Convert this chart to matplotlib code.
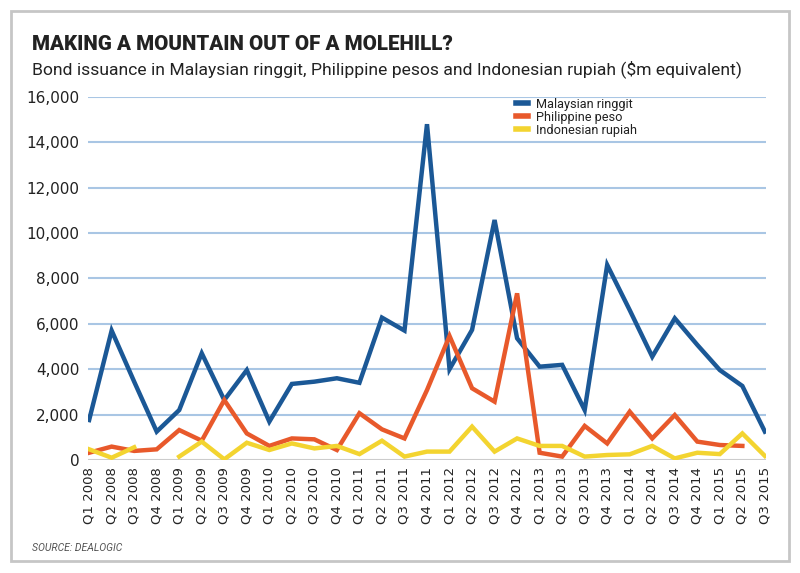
import numpy as np
import matplotlib
matplotlib.use("Agg")
import matplotlib.pyplot as plt
from matplotlib.patches import Rectangle
from matplotlib.lines import Line2D
from matplotlib import font_manager as fm

quarters = [f"Q{q} {y}" for y in range(2008, 2016) for q in range(1, 5)][:31]

malaysian = [1760, 5700, 3450, 1250, 2200, 4700, 2640, 3960, 1690, 3350, 3450, 3600,
             3400, 6270, 5700, 14790, 4000, 5730, 10570, 5360, 4110, 4190, 2200, 8590,
             6600, 4550, 6240, 5070, 3960, 3260, 1250]
philippine = [320, 590, 400, 470, 1320, 850, 2640, 1170, 620, 950, 910, 440,
              2060, 1350, 950, 3080, 5460, 3160, 2570, 7340, 320, 150, 1500, 730,
              2130, 950, 1980, 810, 660, 620, np.nan]
indonesian = [470, 100, 560, np.nan, 150, 810, 30, 760, 440, 730, 510, 620,
              260, 850, 150, 370, 370, 1470, 370, 950, 620, 620, 150, 220,
              250, 620, 70, 320, 260, 1170, 180]

series_names = ["Malaysian ringgit", "Philippine peso", "Indonesian rupiah"]
colors = ["#1b5896", "#e8592b", "#f3d430"]

title_text = "MAKING A MOUNTAIN OUT OF A MOLEHILL?"
subtitle_text = "Bond issuance in Malaysian ringgit, Philippine pesos and Indonesian rupiah ($m equivalent)"
source_text = "SOURCE: DEALOGIC"

fig = plt.figure(figsize=(8, 5.73), dpi=100)
W, H = 800, 573
renderer = fig.canvas.get_renderer()


def text_width(s, family, size, weight="normal", style="normal"):
    t = fig.text(0, 0, s, family=family, fontsize=size, fontweight=weight, fontstyle=style)
    w = t.get_window_extent(renderer).width
    t.remove()
    return w


installed = {f.name for f in fm.fontManager.ttflist}
candidates = ["Fira Sans Condensed", "Fira Sans", "Source Sans 3", "Source Sans Pro",
              "PT Sans", "Archivo Narrow", "Roboto Condensed", "Asap", "Asap Condensed",
              "Barlow Semi Condensed", "Encode Sans Semi Condensed", "IBM Plex Sans Condensed",
              "Alegreya Sans", "Signika", "Cabin", "Lato", "Open Sans", "Roboto", "Noto Sans"]
candidates = [c for c in candidates if c in installed] or ["DejaVu Sans"]
best = min(candidates, key=lambda f: abs(text_width(subtitle_text, [f], 12.5) - 705))
fam = [best, "DejaVu Sans"]

sub_size = 12.5 * 705 / text_width(subtitle_text, fam, 12.5)
sub_size = float(np.clip(sub_size, 11, 14))
title_size = 16 * 419 / text_width(title_text, fam, 16, weight="bold")
title_size = float(np.clip(title_size, 14, 19))
src_size = 8 * 90 / text_width(source_text, fam, 8, style="italic")
src_size = float(np.clip(src_size, 7, 9.5))

fig.patches.append(Rectangle((11 / W, 1 - 561 / H), (789 - 11) / W, (561 - 11) / H,
                             transform=fig.transFigure, fill=False,
                             edgecolor="#c6c6c6", linewidth=2))

fig.text(32 / W, 1 - 45 / H, title_text, fontsize=title_size, fontweight="heavy",
         family=fam, color="#222222", va="center", ha="left")
fig.text(32 / W, 1 - 69 / H, subtitle_text, fontsize=sub_size, family=fam,
         color="#222222", va="center", ha="left")
fig.text(32 / W, 1 - 548 / H, source_text, fontsize=src_size, style="italic",
         family=fam, color="#555555", va="center", ha="left")

ax = fig.add_axes([88 / W, 1 - 460 / H, (766 - 88) / W, (460 - 96.7) / H])
x = np.arange(len(quarters))
data = [malaysian, philippine, indonesian]
for vals, c, name in zip(data, colors, series_names):
    ax.plot(x, vals, color=c, linewidth=3.2, solid_joinstyle="miter", label=name, zorder=3)

ax.set_xlim(-0.05, len(quarters) - 1 + 0.05)
ax.set_ylim(0, 16000)
yt = np.arange(0, 16001, 2000)
ax.set_yticks(yt)
ax.set_yticklabels([f"{v:,}" for v in yt], fontsize=11, color="#222222")
ax.set_xticks(x)
ax.set_xticklabels(quarters, rotation=90, fontsize=9.5, color="#222222")
ax.tick_params(axis="both", length=0)
ax.tick_params(axis="y", pad=6)
ax.tick_params(axis="x", pad=5)
for v in yt[1:]:
    ax.axhline(v, color="#a9c6e4", linewidth=1.5, zorder=1)
ax.axhline(0, color="#cccccc", linewidth=1.5, zorder=1)
for s in ax.spines.values():
    s.set_visible(False)
ax.set_facecolor("none")

handles = [Line2D([0], [0], color=c, linewidth=4) for c in colors]
leg = ax.legend(handles, series_names, loc="upper left", bbox_to_anchor=(0.632, 0.997),
                frameon=False, fontsize=9.2, handlelength=0.9, handletextpad=0.6,
                labelspacing=0.0, borderaxespad=0, borderpad=0)
for t in leg.get_texts():
    t.set_family(fam)
    t.set_color("#222222")

fig.savefig("out.png", dpi=100)
